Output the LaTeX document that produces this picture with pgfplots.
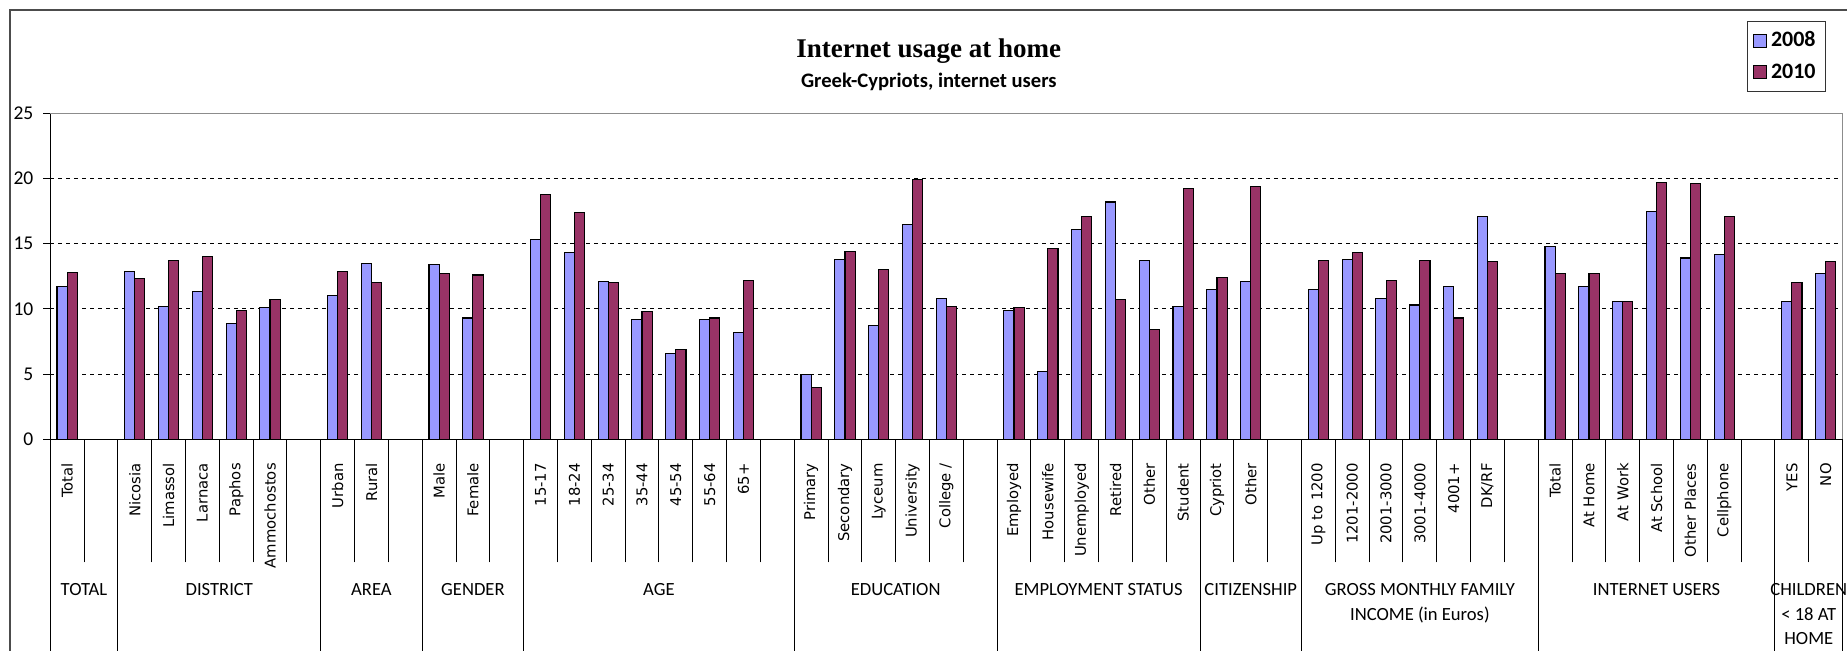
\documentclass[border=0pt]{standalone}
\usepackage{fontspec}
\setmainfont{Carlito}
\newfontfamily\catfont{DejaVu Sans}
\newfontfamily\titlefont{Liberation Serif}
\usepackage{pgfplots}
\pgfplotsset{compat=1.18}
\usepackage{pgfplotstable}

\definecolor{c2008}{HTML}{9999FF}
\definecolor{c2010}{HTML}{993366}

% slot index, 2008, 2010 (empty slots separate the groups)
\pgfplotstableread{
idx y2008 y2010
0  11.7 12.8
2  12.9 12.3
3  10.2 13.7
4  11.3 14.0
5   8.9  9.9
6  10.1 10.7
8  11.0 12.9
9  13.5 12.0
11 13.4 12.7
12  9.3 12.6
14 15.3 18.8
15 14.3 17.4
16 12.1 12.0
17  9.2  9.8
18  6.6  6.9
19  9.2  9.3
20  8.2 12.2
22  5.0  4.0
23 13.8 14.4
24  8.7 13.0
25 16.5 19.9
26 10.8 10.2
28  9.9 10.1
29  5.2 14.6
30 16.1 17.1
31 18.2 10.7
32 13.7  8.4
33 10.2 19.2
34 11.5 12.4
35 12.1 19.4
37 11.5 13.7
38 13.8 14.3
39 10.8 12.2
40 10.3 13.7
41 11.7  9.3
42 17.1 13.6
44 14.8 12.7
45 11.7 12.7
46 10.6 10.6
47 17.5 19.7
48 13.9 19.6
49 14.2 17.1
51 10.6 12.0
52 12.7 13.6
}\usagedata

\begin{document}
\begin{tikzpicture}
  % chart frame (runs off the right and bottom edges)
  \draw[black!70, line width=0.6pt] (4.95pt,-10pt) -- (4.95pt,320.5pt) -- (940pt,320.5pt);

  \begin{axis}[
      scale only axis,
      width=896.2pt,
      height=163pt,
      at={(25.1pt,105.85pt)},
      anchor=south west,
      clip=false,
      ybar,
      bar width=0.3,
      xmin=-0.5, xmax=52.5,
      ymin=0, ymax=25,
      ytick={0,5,...,25},
      axis x line*=bottom,
      axis y line*=left,
      axis line style={black, line width=0.6pt},
      tick align=outside,
      major tick length=3.4pt,
      ytick style={black, line width=0.5pt},
      yticklabel style={font=\fontsize{9.75}{11}\selectfont, xshift=-1.5pt},
      /pgf/number format/assume math mode=true,
      ymajorgrids,
      major grid style={black, line width=0.45pt, dash pattern=on 2pt off 2pt},
      xtick={0,...,52},
      major x tick style={draw=none},
      minor xtick={-0.5,0.5,...,52.5},
      minor tick length=61.5pt,
      minor x tick style={black, line width=0.5pt},
      xticklabels={Total,{},Nicosia,Limassol,Larnaca,Paphos,Ammochostos,{},
        Urban,Rural,{},Male,Female,{},
        15-17,18-24,25-34,35-44,45-54,55-64,65+,{},
        Primary,Secondary,Lyceum,University,College /,{},
        Employed,Housewife,Unemployed,Retired,Other,Student,
        Cypriot,Other,{},
        Up to 1200,1201-2000,2001-3000,3001-4000,4001+,DK/RF,{},
        Total,At Home,At Work,At School,Other Places,Cellphone,{},
        YES,NO},
      xticklabel style={font=\catfont\fontsize{7.4}{9}\selectfont, rotate=90, anchor=east, inner sep=0pt},
      xticklabel shift=8.4pt,
      legend style={at={(0.9464,1.2831)}, anchor=north west, draw=black!80,
        line width=0.5pt, font=\bfseries\fontsize{11}{13}\selectfont,
        row sep=3pt, inner xsep=3pt, inner ysep=3pt, legend cell align=left},
    ]
    \addplot[fill=c2008, draw=black, line width=0.55pt, bar shift=-0.15,
      legend image code/.code={\draw[fill=c2008,draw=black,line width=0.5pt] (0pt,-3.25pt) rectangle (6.5pt,3.25pt);}]
      table[x=idx, y=y2008]{\usagedata};
    \addlegendentry{2008}
    \addplot[fill=c2010, draw=black, line width=0.55pt, bar shift=0.15,
      legend image code/.code={\draw[fill=c2010,draw=black,line width=0.5pt] (0pt,-3.25pt) rectangle (6.5pt,3.25pt);}]
      table[x=idx, y=y2010]{\usagedata};
    \addlegendentry{2010}

    % plot area border on top and right
    \draw[black!45, line width=0.5pt] (axis cs:-0.5,25) -- (axis cs:52.5,25) -- (axis cs:52.5,0);

    % group separators run to the bottom of the chart
    \pgfplotsinvokeforeach{-0.5,1.5,7.5,10.5,13.5,21.5,27.5,33.5,36.5,43.5,50.5,52.5}{
      \draw[black, line width=0.5pt] (axis cs:#1,0) -- ++(0pt,-115pt);
    }

    % group names
    \begin{scope}[every node/.style={font=\fontsize{9.3}{11}\selectfont, anchor=base, inner sep=0pt}]
      \node at (axis cs:0.5,0)  [yshift=-77.9pt] {TOTAL};
      \node at (axis cs:4.5,0)  [yshift=-77.9pt] {DISTRICT};
      \node at (axis cs:9,0)    [yshift=-77.9pt] {AREA};
      \node at (axis cs:12,0)   [yshift=-77.9pt] {GENDER};
      \node at (axis cs:17.5,0) [yshift=-77.9pt] {AGE};
      \node at (axis cs:24.5,0) [yshift=-77.9pt] {EDUCATION};
      \node at (axis cs:30.5,0) [yshift=-77.9pt] {EMPLOYMENT STATUS};
      \node at (axis cs:35,0)   [yshift=-77.9pt] {CITIZENSHIP};
      \node at (axis cs:40,0)   [yshift=-77.9pt] {GROSS MONTHLY FAMILY};
      \node at (axis cs:40,0)   [yshift=-90.6pt] {INCOME (in Euros)};
      \node at (axis cs:47,0)   [yshift=-77.9pt] {INTERNET USERS};
      \node at (axis cs:51.5,0) [yshift=-77.9pt] {CHILDREN};
      \node at (axis cs:51.5,0) [yshift=-90.6pt] {< 18 AT};
      \node at (axis cs:51.5,0) [yshift=-102.6pt] {HOME};
    \end{scope}
  \end{axis}

  \node[font=\titlefont\bfseries\fontsize{13.5}{16}\selectfont, anchor=base] at (464.4pt,296.85pt) {Internet usage at home};
  \node[font=\bfseries\fontsize{10.3}{12}\selectfont, anchor=base] at (464.4pt,281.85pt) {Greek-Cypriots, internet users};

  \pgfresetboundingbox
  \useasboundingbox (0pt,0pt) rectangle (923.5pt,325.5pt);
\end{tikzpicture}
\end{document}
